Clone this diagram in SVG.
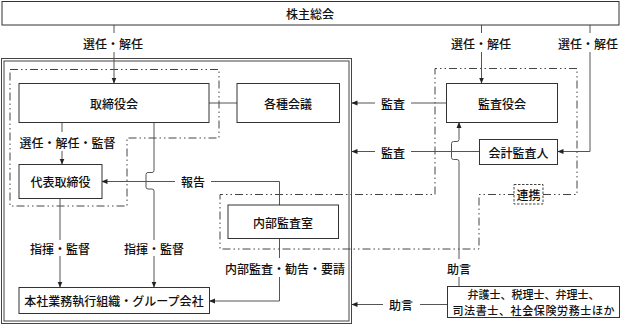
<svg xmlns="http://www.w3.org/2000/svg" width="621" height="324" viewBox="0 0 621 324">
<defs>
<marker id="ah" markerWidth="6" markerHeight="6" refX="5.5" refY="3" orient="auto" markerUnits="userSpaceOnUse">
<path d="M0,0.5 L6,3 L0,5.5 Z" fill="#222"/>
</marker>
<style>
.box{fill:#fff;stroke:#333;stroke-width:1}
.t{font-family:"Noto Sans CJK JP","Noto Sans CJK SC",sans-serif;font-size:12px;font-weight:500;fill:#111;text-anchor:middle;dominant-baseline:central}
.s{font-size:11px}
.c{fill:none;stroke:#555;stroke-width:1}
.a{marker-end:url(#ah)}
.dd{fill:none;stroke:#444;stroke-width:1;stroke-dasharray:8 3 1.5 3 1.5 3}
.fd{fill:#fff;stroke:#444;stroke-width:1;stroke-dasharray:2.5 1.5}
.frame{fill:none;stroke:#444;stroke-width:1}
</style>
</defs>
<rect width="621" height="324" fill="#fff"/>
<g id="frame">
<rect class="frame" x="1.5" y="58.5" width="350" height="265"/>
<rect class="frame" x="4" y="61" width="345" height="260"/>
</g>
<g id="groups">
<path class="dd" d="M10,69.5 H219 V138 H127 V206 H10 Z"/>
<path class="dd" d="M543,194.5 H577 V68.5 H435 V194.5 H220 V249 H479 V194.5 H514"/>
</g>
<g id="connectors">
<path class="c" d="M114,25 V33"/>
<path class="c a" d="M114,52 V83"/>
<path class="c" d="M481.5,25 V33"/>
<path class="c a" d="M481.5,52 V83"/>
<path class="c" d="M590,25 V33"/>
<path class="c a" d="M590,52 V151.5 H558"/>
<path class="c" d="M62,123 V132"/>
<path class="c a" d="M62,151 V164"/>
<path class="c" d="M209,103 H237"/>
<path class="c" d="M154,123 V170.5 Q154,172.5 152,172.5 H148 Q146,172.5 146,174.5 V187 Q146,189 148,189 H152 Q154,189 154,191 V240"/>
<path class="c a" d="M154,256 V287"/>
<path class="c" d="M60,198 V240"/>
<path class="c a" d="M60,256 V287"/>
<path class="c" d="M279.5,205 V181.5 H211"/>
<path class="c a" d="M175,181.5 H102"/>
<path class="c" d="M279.5,238.5 V258"/>
<path class="c a" d="M279.5,277 V301 H209.5"/>
<path class="c" d="M446.5,103 H411"/>
<path class="c a" d="M375,103 H352"/>
<path class="c" d="M479.5,151.5 H411"/>
<path class="c a" d="M375,151.5 H352"/>
<path class="c" d="M459,286.5 V277"/>
<path class="c a" d="M459,259 V161.5 Q459,159.5 457,159.5 H453.5 Q451.5,159.5 451.5,157.5 V143.5 Q451.5,141.5 453.5,141.5 H457 Q459,141.5 459,139.5 V122.5"/>
<path class="c" d="M447.5,304.5 H420"/>
<path class="c a" d="M383,304.5 H352"/>
</g>
<g id="labels">
<text class="t" x="113" y="43.5">選任・解任</text>
<text class="t" x="481" y="43.5">選任・解任</text>
<text class="t" x="588" y="43.5">選任・解任</text>
<text class="t" x="67.5" y="142">選任・解任・監督</text>
<text class="t" x="193" y="181.5">報告</text>
<text class="t" x="60" y="248">指揮・監督</text>
<text class="t" x="154" y="248">指揮・監督</text>
<text class="t" x="285" y="268">内部監査・勧告・要請</text>
<text class="t" x="393" y="103">監査</text>
<text class="t" x="393" y="152">監査</text>
<text class="t" x="459" y="268">助言</text>
<text class="t" x="401" y="304.5">助言</text>
</g>
<g id="n-kabunushi">
<rect class="box" x="2" y="1.5" width="617" height="23.5"/>
<text class="t" x="310" y="13.5">株主総会</text>
</g>
<g id="n-torishimariyakukai">
<rect class="box" x="19" y="83.5" width="190" height="39"/>
<text class="t" x="114" y="103">取締役会</text>
</g>
<g id="n-kakushukaigi">
<rect class="box" x="237" y="83.5" width="102.5" height="39"/>
<text class="t" x="288" y="103">各種会議</text>
</g>
<g id="n-daihyo">
<rect class="box" x="19" y="164.5" width="83" height="34"/>
<text class="t" x="60.5" y="181.5">代表取締役</text>
</g>
<g id="n-naibukansa">
<rect class="box" x="228" y="205" width="110.5" height="33.5"/>
<text class="t" x="283" y="222">内部監査室</text>
</g>
<g id="n-honsha">
<rect class="box" x="19" y="287.5" width="190.5" height="26"/>
<text class="t" x="114" y="300.5">本社業務執行組織・グループ会社</text>
</g>
<g id="n-kansayakukai">
<rect class="box" x="446.5" y="83.5" width="111" height="39"/>
<text class="t" x="502" y="103">監査役会</text>
</g>
<g id="n-kaikei">
<rect class="box" x="479.5" y="139.5" width="78" height="25"/>
<text class="t" x="518.5" y="152">会計監査人</text>
</g>
<g id="n-renkei">
<rect class="fd" x="514" y="184.5" width="29" height="19.5"/>
<text class="t" x="528.5" y="194.5">連携</text>
</g>
<g id="n-senmonka">
<rect class="box" x="447.5" y="286.5" width="172" height="31"/>
<text class="t s" x="533.5" y="294.3" textLength="132" lengthAdjust="spacing">弁護士、税理士、弁理士、</text>
<text class="t s" x="533.5" y="310.3" textLength="162" lengthAdjust="spacing">司法書士、社会保険労務士ほか</text>
</g>
</svg>
